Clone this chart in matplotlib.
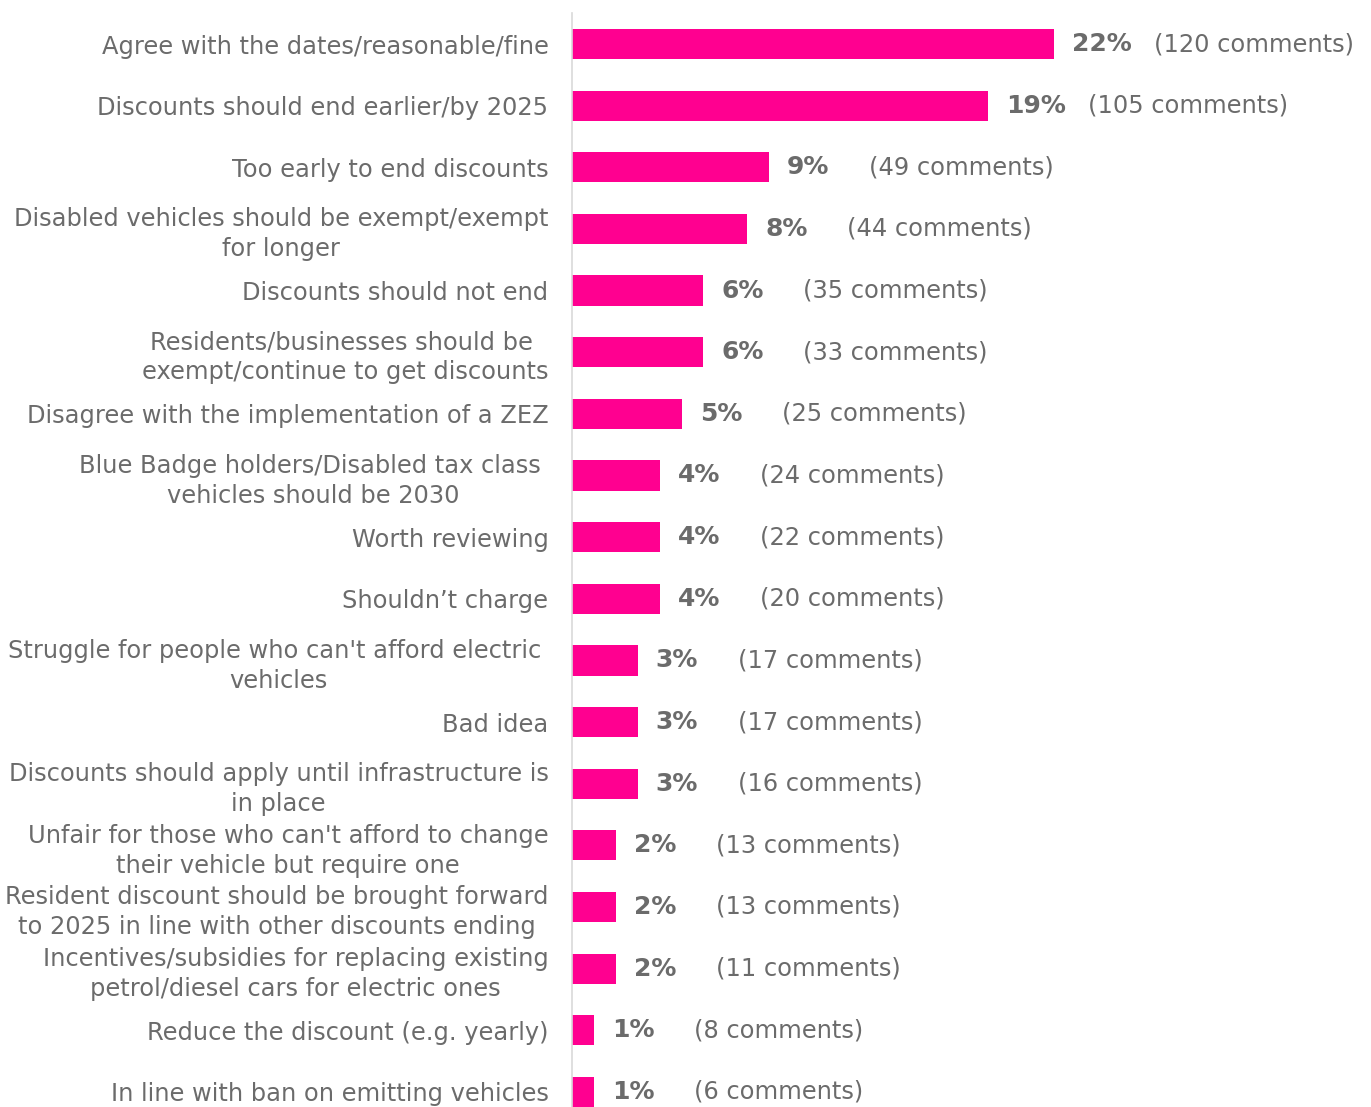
import matplotlib
matplotlib.use("Agg")
import matplotlib.pyplot as plt
from matplotlib.transforms import offset_copy

categories = [
    "Agree with the dates/reasonable/fine",
    "Discounts should end earlier/by 2025",
    "Too early to end discounts",
    "Disabled vehicles should be exempt/exempt\nfor longer",
    "Discounts should not end",
    "Residents/businesses should be \nexempt/continue to get discounts",
    "Disagree with the implementation of a ZEZ",
    "Blue Badge holders/Disabled tax class \nvehicles should be 2030",
    "Worth reviewing",
    "Shouldn\u2019t charge",
    "Struggle for people who can't afford electric \nvehicles",
    "Bad idea",
    "Discounts should apply until infrastructure is\nin place",
    "Unfair for those who can't afford to change\ntheir vehicle but require one",
    "Resident discount should be brought forward\nto 2025 in line with other discounts ending",
    "Incentives/subsidies for replacing existing\npetrol/diesel cars for electric ones",
    "Reduce the discount (e.g. yearly)",
    "In line with ban on emitting vehicles",
]
percents = [22, 19, 9, 8, 6, 6, 5, 4, 4, 4, 3, 3, 3, 2, 2, 2, 1, 1]
comments = [120, 105, 49, 44, 35, 33, 25, 24, 22, 20, 17, 17, 16, 13, 13, 11, 8, 6]

PINK = "#FF0090"
GREY = "#6B6B6B"

fig = plt.figure(figsize=(13.71, 11.07), dpi=100)
W, H = 1371, 1107
ax = fig.add_axes([572 / W, 0, 1 - 572 / W, 1 - 13 / H])

n = len(categories)
ys = list(range(n))
ax.barh(ys, percents, height=0.49, color=PINK)
ax.set_ylim(n - 1 + 0.245, -0.503)
ax.set_xlim(0, 22 * (1371 - 572) / 482)

for s in ["top", "right", "bottom"]:
    ax.spines[s].set_visible(False)
ax.spines["left"].set_color("#D9D9D9")
ax.spines["left"].set_linewidth(1.2)
ax.set_xticks([])
ax.set_yticks(ys)
ax.set_yticklabels(categories, fontsize=17.4, color=GREY, linespacing=1.3,
                   multialignment="center")
ax.tick_params(axis="y", length=0, pad=17)

t1 = offset_copy(ax.transData, fig=fig, x=13, y=0, units="points")
t2 = offset_copy(ax.transData, fig=fig, x=72, y=0, units="points")
for y, p, c in zip(ys, percents, comments):
    ax.text(p, y, f"{p}%", transform=t1, ha="left", va="center",
            fontsize=18, fontweight="bold", color=GREY)
    ax.text(p, y, f"({c} comments)", transform=t2, ha="left", va="center",
            fontsize=17.4, color=GREY)

fig.savefig("out.png", dpi=100)
